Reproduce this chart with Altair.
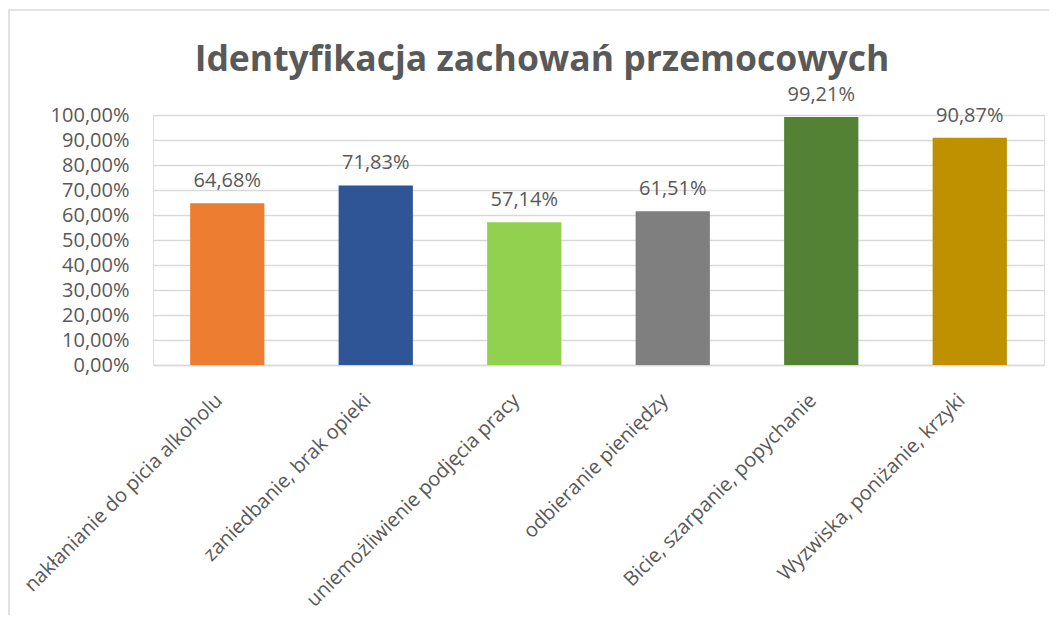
import altair as alt
import pandas as pd

categories = [
    "nakłanianie do picia alkoholu",
    "zaniedbanie, brak opieki",
    "uniemożliwienie podjęcia pracy",
    "odbieranie pieniędzy",
    "Bicie, szarpanie, popychanie",
    "Wyzwiska, poniżanie, krzyki",
]
values = [64.68, 71.83, 57.14, 61.51, 99.21, 90.87]
colors = ["#ED7D31", "#2F5597", "#92D050", "#7F7F7F", "#548235", "#BF9000"]
y_ticks = [0, 10, 20, 30, 40, 50, 60, 70, 80, 90, 100]
title_text = "Identyfikacja zachowań przemocowych"

df = pd.DataFrame({
    "kategoria": categories,
    "wartosc": values,
    "etykieta": [f"{v:.2f}%".replace(".", ",") for v in values],
})

FONT = "Open Sans"
TXT = "#595959"
W, H = 891, 250

x_enc = alt.X(
    "kategoria:N", sort=categories, title=None,
    scale=alt.Scale(paddingInner=0.5, paddingOuter=0.25),
    axis=alt.Axis(labelAngle=-45, labelAlign="right", labelBaseline="middle",
                  labelFontSize=20, labelColor=TXT, labelFont=FONT,
                  labelPadding=32, labelOffset=-8, ticks=False,
                  domainColor="#D9D9D9", domainWidth=1.5, labelLimit=400,
                  labelOverlap=False),
)
y_enc = alt.Y(
    "wartosc:Q", title=None,
    scale=alt.Scale(domain=[0, 100], nice=False),
    axis=alt.Axis(values=y_ticks,
                  labelExpr="replace(format(datum.value, '.2f'), '.', ',') + '%'",
                  labelFontSize=20, labelColor=TXT, labelFont=FONT,
                  labelPadding=24, ticks=False, domain=False,
                  labelOverlap=False, labelBound=False,
                  gridColor="#D9D9D9", gridWidth=1.5),
)

bars = alt.Chart(df).mark_bar().encode(
    x=x_enc,
    y=y_enc,
    color=alt.Color("kategoria:N", sort=categories,
                    scale=alt.Scale(domain=categories, range=colors), legend=None),
)

labels = alt.Chart(df).mark_text(
    font=FONT, fontSize=20, color=TXT, baseline="alphabetic", dy=-16
).encode(
    x=x_enc,
    y=y_enc,
    text="etykieta:N",
)

border = alt.Chart(pd.DataFrame({"a": [0]})).mark_rect(
    fill=None, stroke="#D9D9D9", strokeWidth=1.5, clip=False
).encode(
    x=alt.value(-144), x2=alt.value(W + 40),
    y=alt.value(-105), y2=alt.value(H + 400),
)

title = alt.Chart(pd.DataFrame({"t": [title_text]})).mark_text(
    font=FONT, fontSize=35.5, fontWeight="bold", color=TXT,
    align="center", baseline="alphabetic",
).encode(
    x=alt.value(542 - 153), y=alt.value(71 - 115), text="t:N",
)

chart = alt.layer(border, bars, labels, title).properties(
    width=W, height=H,
    padding={"left": 145, "top": 107, "right": 5, "bottom": 250},
    autosize=alt.AutoSizeParams(type="none"),
).configure_view(stroke=None).configure(background="white")

chart.save("out.html", embed_options={"renderer": "svg", "actions": False})
